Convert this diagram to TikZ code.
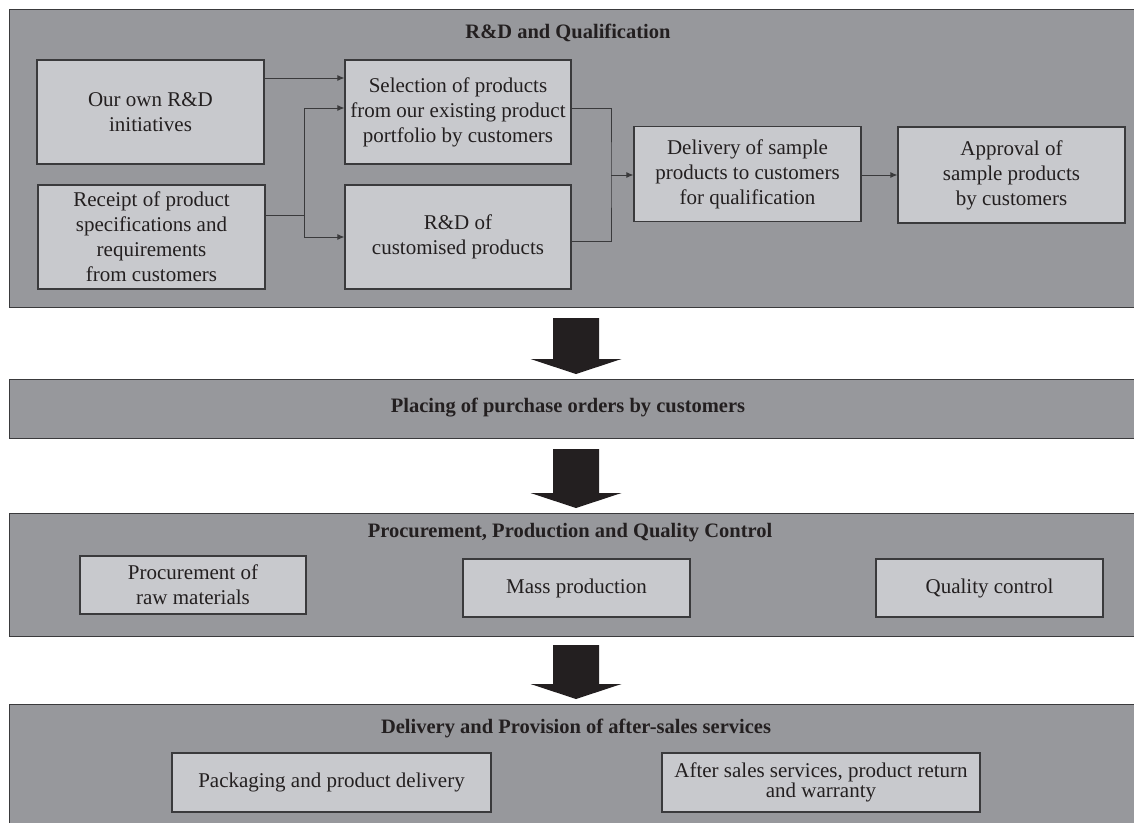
\documentclass[tikz,border=0pt]{standalone}
\usepackage{fontspec}
\setmainfont{Liberation Serif}
\usetikzlibrary{arrows.meta,calc}
\definecolor{panelgray}{HTML}{97989C}
\definecolor{boxgray}{HTML}{C8C9CD}
\definecolor{ink}{HTML}{231F20}
\definecolor{edgec}{HTML}{3A3A3C}
\newcommand\bigdown[2]{%
  \fill[bigarrow] ($(#1)+(-23,0)$) -- ($(#1)+(23,0)$) -- ($(#2)+(23,-15)$) -- ($(#2)+(45.5,-15)$) -- (#2) -- ($(#2)+(-45.5,-15)$) -- ($(#2)+(-23,-15)$) -- cycle;}
\begin{document}
\begin{tikzpicture}[x=1pt,y=-1pt,
  panel/.style={draw=edgec, line width=1.2pt, fill=panelgray, rectangle, inner sep=0pt, anchor=north west},
  box/.style={draw=edgec, line width=1.1pt, fill=boxgray, rectangle, inner sep=0pt, align=center, text=ink, font=\fontsize{21}{25}\selectfont},
  title/.style={text=ink, font=\fontsize{20.5}{25}\selectfont\bfseries, inner sep=0pt},
  conn/.style={draw=edgec, line width=1pt},
  arr/.style={conn, -{Latex[length=7pt,width=6pt]}},
  bigarrow/.style={fill=ink, draw=none}
]
\useasboundingbox (0,0) rectangle (1134,822);
\clip (0,0) rectangle (1134,822);
\fill[white] (0,0) rectangle (1134,822);

% panels
\node[panel, minimum width=1131pt, minimum height=298pt] (P1) at (9,9) {};
\node[panel, minimum width=1131pt, minimum height=59pt] (P2) at (9,379) {};
\node[panel, minimum width=1131pt, minimum height=123pt] (P3) at (9,513) {};
\node[panel, minimum width=1131pt, minimum height=130pt] (P4) at (9,704) {};

% titles
\node[title] (T1) at (568,33) {R\&D and Qualification};
\node[title] (T2) at (568,408) {Placing of purchase orders by customers};
\node[title] (T3) at (570,533) {Procurement, Production and Quality Control};
\node[title] (T4) at (576,728) {Delivery and Provision of after-sales services};

% panel 1 boxes
\node[box, minimum width=227pt, minimum height=104pt] (A) at (150.5,112) {Our own R\&D\\initiatives};
\node[box, minimum width=227pt, minimum height=104pt] (B) at (151.5,237) {Receipt of product\\specifications and\\requirements\\from customers};
\node[box, minimum width=226pt, minimum height=104pt] (C) at (458,112) {Selection of products\\from our existing product\\portfolio by customers};
\node[box, minimum width=226pt, minimum height=104pt] (D) at (458,237) {R\&D of\\customised products};
\node[box, minimum width=227pt, minimum height=95pt] (E) at (747.5,174) {Delivery of sample\\products to customers\\for qualification};
\node[box, minimum width=227pt, minimum height=96pt] (F) at (1011.5,175) {Approval of\\sample products\\by customers};

% panel 3 boxes
\node[box, minimum width=226pt, minimum height=58pt] (G) at (193,585) {Procurement of\\raw materials};
\node[box, minimum width=227pt, minimum height=58pt] (H) at (576.5,588) {Mass production};
\node[box, minimum width=227pt, minimum height=58pt] (I) at (989.5,588) {Quality control};

% panel 4 boxes
\node[box, minimum width=319pt, minimum height=59pt] (K) at (331.5,782.5) {Packaging and product delivery};
\node[box, minimum width=318pt, minimum height=59pt, font=\fontsize{21}{18}\selectfont] (L) at (821,782.5) {After sales services, product return\\and warranty};

% connectors in panel 1
\coordinate (yA) at (0,78);
\coordinate (yC) at (0,108);
\coordinate (yD) at (0,241);
\coordinate (jB) at (304,215);
\coordinate (jE) at (611,175);
\draw[arr] (A.east |- yA) -- (C.west |- yA);
\draw[conn] (B.east |- jB) -- (jB);
\draw[arr] (jB) |- (C.west |- yC);
\draw[arr] (jB) |- (D.west);
\draw[conn] (C.east |- yC) -| (jE) |- (D.east |- yD);
\draw[arr] (jE) -- (E.west |- jE);
\draw[arr] (E.east |- jE) -- (F.west |- jE);

% big arrows between panels
\coordinate (ax) at (576,0);
\coordinate (s1) at ($(P1.south -| ax)+(0,10)$);
\coordinate (e1) at ($(P2.north -| ax)+(0,-5)$);
\coordinate (s2) at ($(P2.south -| ax)+(0,10)$);
\coordinate (e2) at ($(P3.north -| ax)+(0,-5)$);
\coordinate (s3) at ($(P3.south -| ax)+(0,8)$);
\coordinate (e3) at ($(P4.north -| ax)+(0,-5)$);
\bigdown{s1}{e1}
\bigdown{s2}{e2}
\bigdown{s3}{e3}
\end{tikzpicture}
\end{document}
